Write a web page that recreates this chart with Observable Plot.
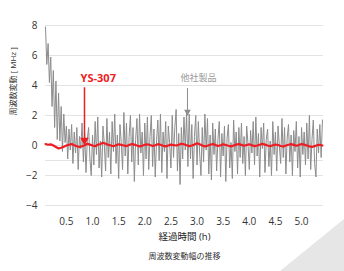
<!DOCTYPE html>
<html><head><meta charset="utf-8">
<script src="https://cdn.jsdelivr.net/npm/d3@7"></script>
<script src="https://cdn.jsdelivr.net/npm/@observablehq/plot@0.6"></script>
<style>
body{margin:0;background:#fff;width:344px;height:271px;overflow:hidden;position:relative;font-family:"Open Sans","Noto Sans CJK JP",sans-serif}
#chart{position:absolute;left:0;top:0}
#corner{position:absolute;left:0;top:0;width:344px;height:271px;background:#e6e6e6;clip-path:polygon(280px 271px,344px 219px,344px 271px)}
</style></head><body><div id="chart"></div><div id="corner"></div>
<script>
// Sampling of the series (hours)
const greyStart = 0.1, greyStep = 0.025;
const redStart = 0.1, redStep = 0.05;

// 他社製品 (other company's product) frequency deviation, MHz
const greyValues = [
  7.9, 5.4, 6.8, 4.2, 5.9, 2.6, 5.0, 1.2, 4.3, 0.4,
  3.5, 0.3, 2.6, -0.4, 2.1, 0.2, 1.3, -0.9, 1.1, -0.3,
  1.4, -1.2, 0.9, -0.5, 1.2, -1.6, 0.6, -0.2, 1.5, -1.1,
  0.8, -1.8, 0.4, 1.2, -0.9, -2.0, 0.7, -1.3, 1.6, -0.6,
  1.9, -1.5, 0.3, -2.1, 1.3, 0.1, -1.7, 1.8, -0.8, 0.9,
  -1.9, 1.6, -0.4, 2.1, -1.2, 0.7, -2.2, 1.4, 0.2, -1.6,
  2.2, -0.7, 1.5, -1.9, 0.6, 2.0, -1.1, 1.2, -2.4, 0.4,
  1.8, -1.3, 2.1, -0.5, 0.9, -2.0, 1.5, -0.9, 1.9, -1.6,
  0.6, 2.0, -1.4, 1.1, -2.1, 0.3, 1.7, -1.0, 2.1, -1.8,
  0.9, -0.4, 1.6, -2.2, 1.3, 0.2, -1.5, 2.0, -0.8, 1.2,
  2.4, -1.7, 0.8, -2.6, 1.2, -0.9, 1.9, -0.3, 2.2, -1.4,
  2.1, -0.9, 1.4, -2.2, 0.6, 2.0, -1.3, 1.6, -0.5, -2.0,
  1.2, -1.1, 2.1, -0.3, 1.8, -1.9, 0.7, -2.3, 1.5, -0.6,
  1.1, -1.7, 0.4, 1.6, -2.1, 0.8, -0.7, 1.3, -2.4, 0.5,
  1.4, -1.5, 0.2, -2.2, 1.7, -0.4, 0.9, -1.9, 1.2, -0.8,
  1.5, -1.2, 0.6, -2.0, 1.3, 0.1, -1.6, 1.0, -0.5, 1.6,
  -1.3, 1.9, -0.7, 0.8, -2.1, 1.2, -0.2, 1.5, -1.8, 0.4,
  1.1, -1.4, 0.3, -2.0, 1.6, -0.6, 0.9, -1.7, 1.3, 0.0,
  -1.2, 1.8, -0.8, 1.2, -1.9, 0.5, 1.4, -1.1, 0.7, -2.0,
  1.0, -0.4, 1.6, -1.5, 0.6, -2.1, 1.2, -0.6, 0.9, -1.3,
  1.5, -0.9, 2.0, -1.6, 0.4, 1.7, -1.2, -2.1, 1.1, -0.5,
  1.4, -0.8, 1.7
];

// YS-307 frequency deviation, MHz
const redValues = [
  0.10, 0.05, 0.08, 0.00, -0.10, -0.20, -0.15, -0.08, 0.00, 0.05,
  0.10, 0.02, -0.05, -0.10, -0.05, 0.02, 0.12, 0.06, 0.00, -0.05,
  0.05, 0.10, 0.18, 0.12, 0.05, 0.00, -0.05, 0.02, 0.08, 0.04,
  0.00, -0.04, 0.03, 0.10, 0.06, 0.00, -0.06, -0.02, 0.05, 0.08,
  0.03, -0.03, 0.02, 0.09, 0.05, -0.02, -0.06, 0.00, 0.06, 0.03,
  0.00, 0.05, 0.12, 0.08, 0.02, -0.04, 0.00, 0.06, 0.15, 0.08,
  0.00, -0.06, -0.02, 0.05, 0.10, 0.04, -0.03, 0.02, 0.08, 0.03,
  -0.02, -0.06, 0.00, 0.06, 0.10, 0.04, -0.02, 0.03, 0.08, 0.02,
  -0.04, 0.00, 0.05, 0.12, 0.06, 0.00, -0.05, 0.02, 0.07, 0.03,
  -0.03, -0.07, 0.00, 0.05, 0.09, 0.04, -0.02, 0.03, 0.10, 0.06,
  0.00, -0.06, -0.10, -0.04, 0.02, 0.05, 0.00
];

const xTicks = [0.5, 1.0, 1.5, 2.0, 2.5, 3.0, 3.5, 4.0, 4.5, 5.0];
const yTicks = [-4, -2, 0, 2, 4, 6, 8];
const gridLines = [8, 6, 4, 2, 0, -1, -2, -4];

const yLabel = "周波数変動 [ MHz ]";
const xLabel = "経過時間 (h)";
const caption = "周波数変動幅の推移";

const redNote = {label: "YS-307", tx: 1.11, ty: 4.47, ax: 0.846, y1: 3.85, y2: 0.35};
const greyNote = {label: "他社製品", tx: 3.03, ty: 4.47, ax: 2.817, y1: 3.8, y2: 2.25};

const grey = greyValues.map((v, i) => ({t: greyStart + i * greyStep, v}));
const red = redValues.map((v, i) => ({t: redStart + i * redStep, v}));

const font = '"Open Sans","Noto Sans CJK JP",sans-serif';

const chart = Plot.plot({
  width: 344,
  height: 271,
  marginTop: 25,
  marginBottom: 66,
  marginLeft: 45,
  marginRight: 21,
  style: {fontFamily: font, fontSize: "10px", color: "#333", background: "transparent"},
  x: {domain: [0.1, 5.42]},
  y: {domain: [-4, 8]},
  marks: [
    Plot.ruleY(gridLines, {stroke: "#e3e3e3", strokeWidth: 1}),
    Plot.axisX({ticks: xTicks, tickFormat: d3.format(".1f"), tickSize: 0, tickPadding: 12, label: null, fontSize: 10}),
    Plot.axisY({ticks: yTicks, tickSize: 0, tickPadding: 8, label: null, fontSize: 10}),
    Plot.line(grey, {x: "t", y: "v", stroke: "#8c8c8c", strokeWidth: 1}),
    Plot.line(red, {x: "t", y: "v", stroke: "#ee1d23", strokeWidth: 2.2}),
    Plot.ruleX([redNote], {x: "ax", y1: "y1", y2: "y2", stroke: "#ee1d23", strokeWidth: 1.5}),
    Plot.dot([redNote], {x: "ax", y: "y2", symbol: "triangle", rotate: 180, r: 3.2, fill: "#ee1d23", stroke: "none"}),
    Plot.text([redNote], {x: "tx", y: "ty", text: "label", fill: "#ee1d23", fontWeight: "bold", fontSize: 11}),
    Plot.ruleX([greyNote], {x: "ax", y1: "y1", y2: "y2", stroke: "#8c8c8c", strokeWidth: 1}),
    Plot.dot([greyNote], {x: "ax", y: "y2", symbol: "triangle", rotate: 180, r: 2.5, fill: "#8c8c8c", stroke: "none"}),
    Plot.text([greyNote], {x: "tx", y: "ty", text: "label", fill: "#999", fontSize: 9}),
    Plot.text([yLabel], {frameAnchor: "left", rotate: -90, dx: -32, fill: "#333", fontSize: 8}),
    Plot.text([xLabel], {frameAnchor: "bottom", dy: 34, fill: "#222", fontSize: 9.5}),
    Plot.text([caption], {frameAnchor: "bottom", dy: 53, fill: "#333", fontSize: 8})
  ]
});
document.getElementById("chart").appendChild(chart);
</script>
</body></html>
